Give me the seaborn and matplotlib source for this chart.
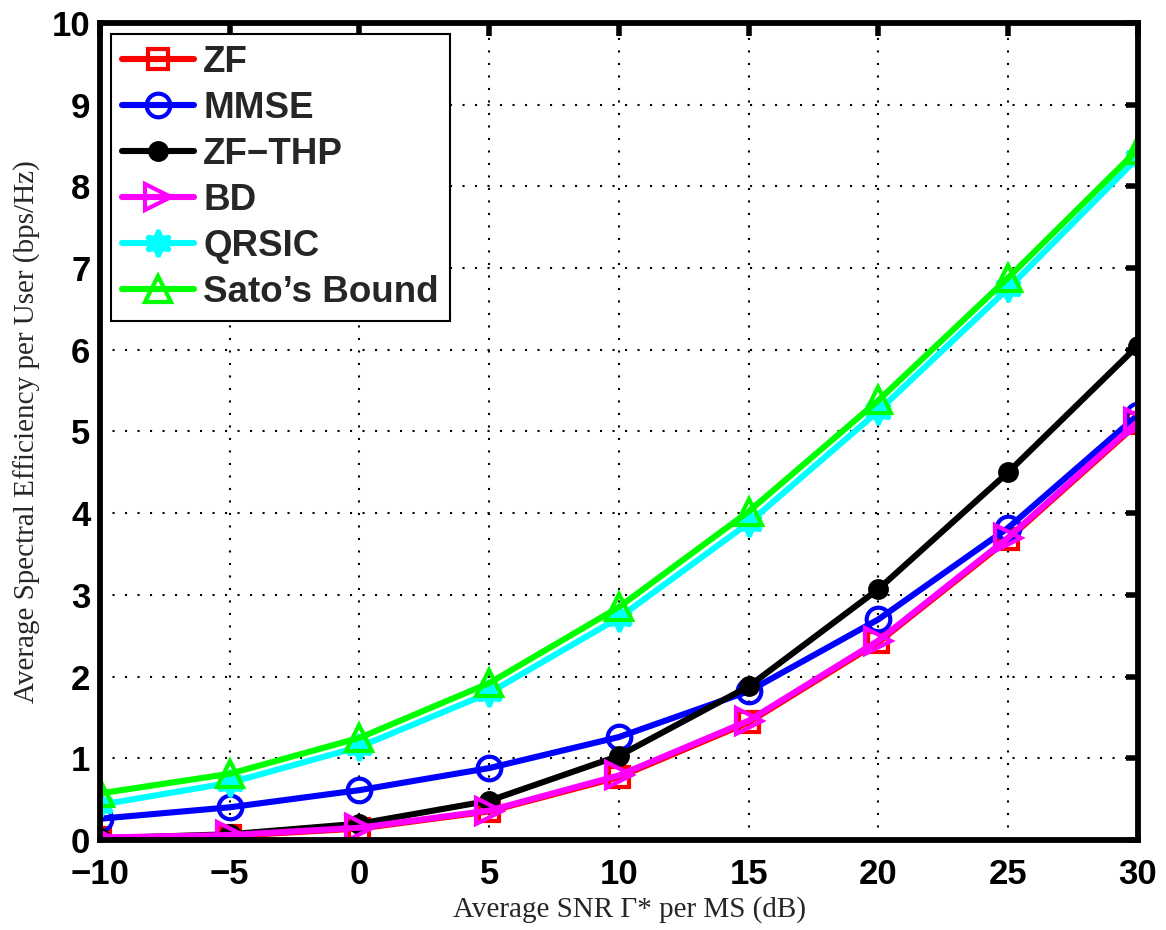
import numpy as np
import pandas as pd
import matplotlib
matplotlib.use("Agg")
import matplotlib.pyplot as plt
import seaborn as sns

# SNR points (dB) and average spectral efficiency per user (bps/Hz)
snr_db = [-10, -5, 0, 5, 10, 15, 20, 25, 30]
zf = [0.02, 0.05, 0.14, 0.35, 0.77, 1.44, 2.42, 3.68, 5.10]
mmse = [0.26, 0.40, 0.61, 0.88, 1.26, 1.82, 2.70, 3.82, 5.20]
zf_thp = [0.02, 0.07, 0.20, 0.48, 1.03, 1.88, 3.07, 4.50, 6.05]
bd = [0.03, 0.06, 0.15, 0.36, 0.79, 1.46, 2.44, 3.70, 5.12]
qrsic = [0.43, 0.70, 1.14, 1.80, 2.72, 3.88, 5.25, 6.75, 8.35]
sato = [0.57, 0.81, 1.25, 1.92, 2.85, 4.02, 5.38, 6.88, 8.45]

series_names = ["ZF", "MMSE", "ZF\u2212THP", "BD", "QRSIC", "Sato\u2019s Bound"]
series_values = [zf, mmse, zf_thp, bd, qrsic, sato]
colors = ["#ff0000", "#0000ff", "#000000", "#ff00ff", "#00ffff", "#00ff00"]
markers = ["s", "o", "o", ">", (6, 1, 0), "^"]
filled = [False, False, True, False, True, False]
msizes = [15, 17, 12, 19, 19, 19]

df = pd.DataFrame({
    "snr": np.tile(snr_db, len(series_names)),
    "rate": np.concatenate(series_values),
    "scheme": np.repeat(series_names, len(snr_db)),
})

sns.set_theme(style="white")
plt.rcParams["font.family"] = ["Liberation Sans", "DejaVu Sans"]

fig = plt.figure(figsize=(11.66, 9.30), dpi=100)
ax = fig.add_axes([0.0858, 0.0968, 0.890, 0.8785])

for name, col, mk, fl, ms in zip(series_names, colors, markers, filled, msizes):
    sub = df[df["scheme"] == name]
    sns.lineplot(
        data=sub, x="snr", y="rate", ax=ax, color=col, lw=4.4,
        marker=mk, markersize=ms, markeredgewidth=3.0,
        markerfacecolor=col if fl else "none", markeredgecolor=col,
        label=name, legend=False, sort=False,
    )

ax.set_xlim(-10, 30)
ax.set_ylim(0, 10)
ax.set_xticks(np.arange(-10, 31, 5))
ax.set_yticks(np.arange(0, 11, 1))
ax.set_xticklabels(["\u221210", "\u22125"] + [str(v) for v in range(0, 31, 5)])

ax.grid(True, color="black", linestyle=(0, (1, 5)), linewidth=1.5)
for sp in ax.spines.values():
    sp.set_color("black")
    sp.set_linewidth(4.2)
ax.tick_params(direction="in", length=9, width=4, top=True, right=True,
               labelsize=25, colors="black")
ax.tick_params(axis="x", pad=13)
ax.tick_params(axis="y", pad=7)
for lab in ax.get_xticklabels() + ax.get_yticklabels():
    lab.set_fontweight("bold")
# tighten the bottom y label's box so it sits clear of the first x label
ax.get_yticklabels()[0].set_verticalalignment("center_baseline")

serif = ["Liberation Serif", "DejaVu Serif"]
ax.set_xlabel("Average SNR \u0393* per MS (dB)", family=serif, fontsize=21)
ax.set_ylabel("Average Spectral Efficiency per User (bps/Hz)", family=serif,
              fontsize=21, labelpad=8)
ax.xaxis.set_label_coords(0.51, -0.069)

leg = ax.legend(loc="upper left", bbox_to_anchor=(0.0, 1.0), fancybox=False,
                framealpha=1, edgecolor="black", handlelength=1.95,
                prop={"weight": "bold", "size": 26.5}, borderpad=0.3,
                labelspacing=0.3, handletextpad=0.25, borderaxespad=0.3)
leg.get_frame().set_linewidth(1.5)

fig.savefig("out.png", dpi=100)
